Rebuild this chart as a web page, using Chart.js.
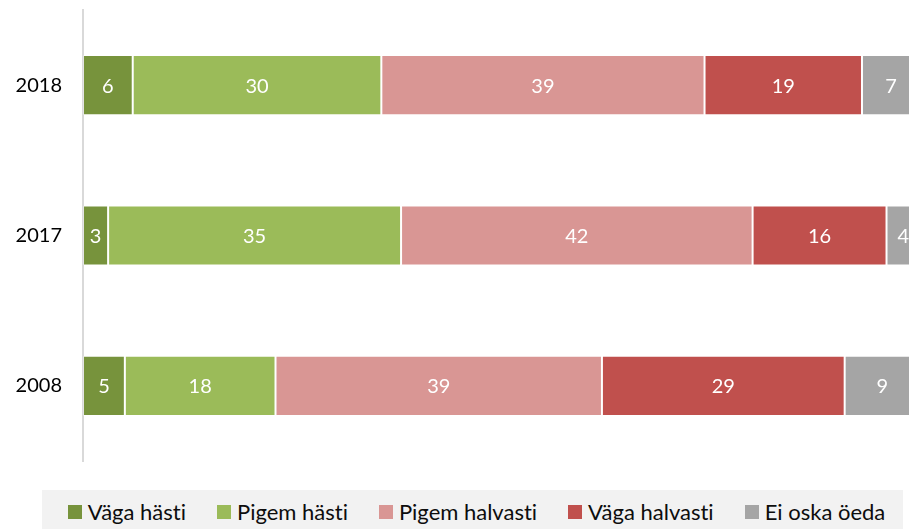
<!DOCTYPE html>
<html>
<head>
<meta charset="utf-8">
<script src="https://cdn.jsdelivr.net/npm/chart.js@4"></script>
<style>
  body { margin: 0; overflow: hidden; background: #fff; font-family: Lato, sans-serif; }
  #wrap { position: absolute; left: 0; top: 0; width: 940px; height: 529px; }
  #legend {
    position: absolute; left: 42px; top: 490px; width: 861px; height: 45px;
    background: #f2f2f2; display: flex; justify-content: center; align-items: flex-start;
    padding-top: 11px; padding-left: 8px; box-sizing: border-box; gap: 31px;
  }
  .item { display: flex; align-items: center; font-size: 22px; color: #0d0d0d; line-height: 22px;
          font-variant-ligatures: none; }
  .box { width: 14px; height: 14px; margin-right: 6px; }
</style>
</head>
<body>
<div id="wrap"><canvas id="main" width="940" height="529"></canvas></div>
<div id="legend"></div>
<script>
const years = ['2018', '2017', '2008'];
const seriesNames = ['Väga hästi', 'Pigem hästi', 'Pigem halvasti', 'Väga halvasti', 'Ei oska öeda'];
const vagaHasti = [6, 3, 5];
const pigemHasti = [30, 35, 18];
const pigemHalvasti = [39, 42, 39];
const vagaHalvasti = [19, 16, 29];
const eiOska = [7, 4, 9];
const colors = ['#77933c', '#9bbb59', '#d99694', '#c0504d', '#a5a5a5'];

const series = [vagaHasti, pigemHasti, pigemHalvasti, vagaHalvasti, eiOska];
// 100% stacked: every year is scaled to its own total
let totals = years.map((y, j) => series.reduce((s, arr) => s + arr[j], 0));

const datasets = series.map((values, i) => ({
    label: seriesNames[i],
    rawValues: values,
    data: values.map((v, j) => v / totals[j] * 100),
    backgroundColor: colors[i],
    borderColor: 'rgba(255,255,255,0.3)',
    borderWidth: 1,
    borderSkipped: false,
    categoryPercentage: 1,
    barPercentage: 0.4
}));

const barLabels = {
    id: 'barLabels',
    afterDatasetsDraw(chart) {
        const ctx = chart.ctx;
        ctx.save();
        ctx.font = '20px Lato';
        ctx.fillStyle = '#ffffff';
        ctx.textAlign = 'center';
        ctx.textBaseline = 'middle';
        chart.data.datasets.forEach((ds, i) => {
            const meta = chart.getDatasetMeta(i);
            meta.data.forEach((bar, j) => {
                ctx.fillText(ds.rawValues[j], (bar.x + bar.base) / 2, bar.y + 1);
            });
        });
        ctx.restore();
    }
};

const myChart = new Chart(document.getElementById('main'), {
    type: 'bar',
    data: { labels: years, datasets: datasets },
    options: {
        indexAxis: 'y',
        responsive: false,
        devicePixelRatio: 1,
        animation: false,
        layout: { padding: { left: 0, right: 20, top: 10, bottom: 68 } },
        plugins: { legend: { display: false }, tooltip: { enabled: false } },
        scales: {
            x: { stacked: true, min: 0, max: 100, display: false },
            y: {
                stacked: true,
                grid: { display: false, drawTicks: false },
                border: { display: true, color: '#d9d9d9', width: 2 },
                ticks: { color: '#000000', font: { family: 'Lato', size: 20 }, padding: 21 },
                afterFit: scale => {
                    scale.width = 83;
                    scale.paddingTop = 0;
                    scale.paddingBottom = 0;
                }
            }
        }
    },
    plugins: [barLabels]
});

// legend built from the same names and colours
const legend = document.getElementById('legend');
seriesNames.forEach((name, i) => {
    const item = document.createElement('div');
    item.className = 'item';
    const box = document.createElement('span');
    box.className = 'box';
    box.style.background = colors[i];
    item.appendChild(box);
    item.appendChild(document.createTextNode(name));
    legend.appendChild(item);
});
</script>
</body>
</html>
